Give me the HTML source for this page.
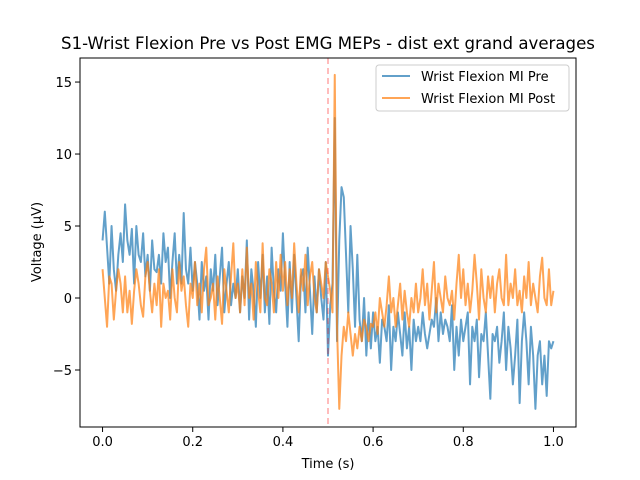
<!DOCTYPE html>
<html><head><meta charset="utf-8"><style>
body{margin:0;background:#fff}
svg{display:block;font-family:"DejaVu Sans","Liberation Sans",sans-serif}
</style></head><body>
<svg id="chart" width="640" height="480">
<rect width="640" height="480" fill="#fff"/>
<text x="328" y="49" text-anchor="middle" font-size="16.6">S1-Wrist Flexion Pre vs Post EMG MEPs - dist ext grand averages</text>
<g id="plot"></g>
<text x="328" y="468" text-anchor="middle" font-size="13">Time (s)</text>
<text transform="translate(41,242) rotate(-90)" text-anchor="middle" font-size="13">Voltage (μV)</text>
<g>
<rect x="376" y="65" width="193" height="46" rx="3" fill="#fff" fill-opacity="0.8" stroke="#ccc"/>
<g><line x1="382" y1="76" x2="410" y2="76" stroke="#1f77b4" stroke-opacity="0.7" stroke-width="2"/><text x="421" y="81" font-size="13">Wrist Flexion MI Pre</text></g>
<g><line x1="382" y1="98" x2="410" y2="98" stroke="#ff7f0e" stroke-opacity="0.7" stroke-width="2"/><text x="421" y="103" font-size="13">Wrist Flexion MI Post</text></g>
</g>
</svg>
<script>
const timeStep = 0.005;
const preValues = [4,6,3.5,1,5,2,0.5,3,4.5,2.5,6.5,4,3,4.8,1,5,3,2.5,4.5,1.5,
3,0.5,4,2,1.8,3,1,4.5,2.5,3.5,0,2.5,4.5,1,3,1,5.9,2,1,3.5,
0.5,2.5,1,-1.5,2.5,0.5,1.5,-1.5,2,0.5,3,-0.5,1.5,3.5,-1,1,2.5,-0.5,1,0,
2,-1,1.5,0,4,-1.5,2,0.5,-2,2.5,0,3,-1,1.5,-1.8,3.5,0.5,-1,2,0.5,
4.5,1,-2,2.5,-1,3,0,-3,1.5,2,-1,3.5,0.5,-2.5,1.5,-1,2,0,-1.5,2.5,
-4,-0.5,1,12.5,-3,4,7.7,7,3,-1,5,2,-2,3,-1.5,-3,0,-4,-1,-3.5,
-1,-3,-2,-4.5,-1.5,-2,-3,-0.5,-5,-2,-3,-1,-2.5,-4,-1,-3.5,-2,-5,-1.5,-3,
-2,-3,-1,-2.5,-3.5,-2.5,-1.5,-2,0,-3,-1,-2.5,-1.5,-2,-3,-0.5,-5,-2,-4,-1.5,
-3,-2,-1,-6,-2,-3,-1.5,-5.5,-2.5,-3,-1,-4,-7,-2.5,-3,-2,-4.5,-3,-1,-5,
-2,-3.5,-6,-4,-1.5,-7.3,-3,-1,-3,-6,-2,-4,-7.7,-4,-3,-6,-4,-6.8,-3,-3.5,-3];
const postValues = [2,0,-2,1.5,1,-1.5,0.5,2,1,-1,1.5,-1,0.5,-1.8,0.5,2,1,-0.5,-1.3,1.5,
2.5,0.5,-1,1,-0.5,2,-2,1,0,0.5,-1.5,2,0,-1,2.5,0.5,1.5,-0.5,-2,1,
0,2.5,-0.5,1,-1,2,3.5,-0.5,0,1,-1.5,1.5,0,-1.8,2,0.5,-1,1.5,3.8,0,
1,-1,2,-0.5,3.5,0,1,-1.5,2.5,0.5,-1,3.8,0,-0.5,2,1,-1,2.5,0,3,
0.5,2.5,-0.5,2,0,3.8,1,-1,2,0.5,3,-0.5,1.5,2.5,0,-1,2,1,0,2.5,
1.5,0.5,-1,15.5,-2,-7.7,-4,-2,-3,-1,-2.5,-4,-2.5,-3.5,-2,-3,-1.5,-2,-3,-1.8,
-2,-1,-2.5,0,-1,-2,-0.5,1.5,-1,0,-2,-0.5,1,-1.5,0.5,-1,-2,0,-1,1,
-1,0,2,-0.5,1,-1.5,0.5,2.5,-1,1,0,-1,1.5,0,-0.5,0.5,-1.5,1,3,0,
2,-0.5,1,-1,0.5,3,1,-1.5,2,0,-1,1.5,0,1.5,-1,1,2,0,-0.5,3,
-0.5,1,0,2,-0.5,0.5,-1,1.5,0,2.5,-0.5,1,0,-1,1.5,2.8,0,-0.5,2,-0.5,0.5];
const xTicks = [0,0.2,0.4,0.6,0.8,1.0];
const xTickLabels = ["0.0","0.2","0.4","0.6","0.8","1.0"];
const yTicks = [-5,0,5,10,15];
const yTickLabels = ["−5","0","5","10","15"];
const stimTime = 0.5;

const L=80,R=576,T=58,B=427;
const xMin=-0.05,xMax=1.05,yMin=-8.96,yMax=16.67;
const xs=v=>L+(v-xMin)/(xMax-xMin)*(R-L);
const ys=v=>B-(v-yMin)/(yMax-yMin)*(B-T);
const NS="http://www.w3.org/2000/svg";
const g=document.getElementById('plot');
function mk(t,a,p){const e=document.createElementNS(NS,t);for(const k in a)e.setAttribute(k,a[k]);(p||g).appendChild(e);return e;}

function series(vals,color,name){
  const pts=vals.map((v,i)=>xs(i*timeStep).toFixed(2)+','+ys(v).toFixed(2)).join(' ');
  const p=mk('polyline',{points:pts,fill:'none',stroke:color,'stroke-opacity':0.7,'stroke-width':2,'stroke-linejoin':'round'});
  
  
}
series(preValues,'#1f77b4','pre-line');
series(postValues,'#ff7f0e','post-line');
const vl=mk('line',{x1:xs(stimTime),x2:xs(stimTime),y1:T,y2:B,stroke:'#ff0000','stroke-opacity':0.35,'stroke-width':1.5,'stroke-dasharray':'6,4'});



const fr=mk('rect',{x:L,y:T,width:R-L,height:B-T,fill:'none',stroke:'#000','stroke-width':1});



xTicks.forEach((t,i)=>{
  const x=xs(t);
  mk('line',{x1:x,x2:x,y1:B,y2:B+5,stroke:'#000'});
  const tx=mk('text',{x:x,y:B+19,'text-anchor':'middle','font-size':13});
  tx.textContent=xTickLabels[i];
  
  
});
yTicks.forEach((t,i)=>{
  const y=ys(t);
  mk('line',{x1:L-5,x2:L,y1:y,y2:y,stroke:'#000'});
  const tx=mk('text',{x:L-8,y:y+5,'text-anchor':'end','font-size':13});
  tx.textContent=yTickLabels[i];
  
  
});
</script>
</body></html>
